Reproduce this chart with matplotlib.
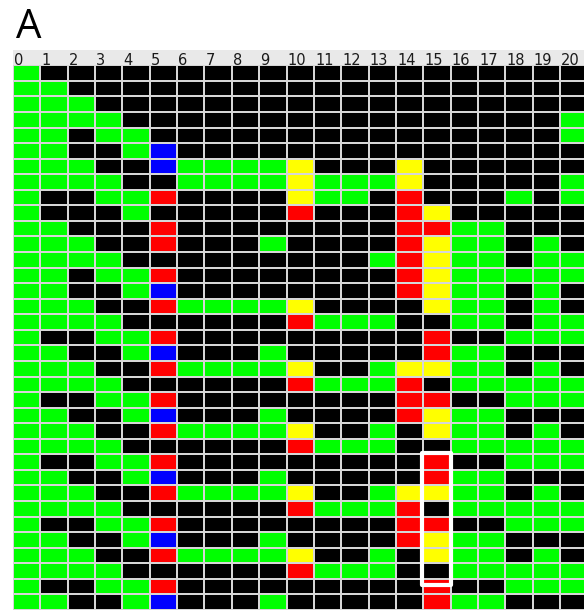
import matplotlib
matplotlib.use("Agg")
import matplotlib.pyplot as plt
import numpy as np
from matplotlib.colors import ListedColormap
from matplotlib.patches import Rectangle

# Cell states per time step (rows) and site (columns)
# K = black, G = green, R = red, Y = yellow, B = blue
column_labels = [str(i) for i in range(21)]
state_rows = [
    "GKKKKKKKKKKKKKKKKKKKK",
    "GGKKKKKKKKKKKKKKKKKKK",
    "GGGKKKKKKKKKKKKKKKKKK",
    "GGGGKKKKKKKKKKKKKKKKG",
    "GGKGGKKKKKKKKKKKKKKKG",
    "GGKKGBKKKKKKKKKKKKKKK",
    "GGGKKBGGGGYKKKYKKKKKK",
    "GGGGKKGGGGYGGGYKKKKKG",
    "GKKGGRKKKKYGGKRKKKGKG",
    "GKKKGKKKKKRKKKRYKKKKK",
    "GGKKKRKKKKKKKKRRGGKKK",
    "GGGKKRKKKGKKKKRYGGKGK",
    "GGGGKKKKKKKKKGRYGGKGG",
    "GGKGGRKKKKKKKKRYGGGGG",
    "GGKKGBKKKKKKKKRYGGKGK",
    "GGGKKRGGGGYKKKKYGGKGK",
    "GGGGKKKKKKRGGGKKGGKGG",
    "GKKGGRKKKKKKKKKRKKGGG",
    "GGKKGBKKKGKKKKKRGGKKK",
    "GGGKKRGGGGYKKGYYGGKGK",
    "GGGGKKKKKKRGGGRKGGGGG",
    "GKKGGRKKKKKKKKRRKKGGG",
    "GGKKGBKKKGKKKKRYGGKKK",
    "GGGKKRGGGGYKKGKYGGKGK",
    "GGGGKKKKKKRGGGKKGGGGG",
    "GKKGGRKKKKKKKKKRKKGGG",
    "GGKKGBKKKGKKKKKRGGKKK",
    "GGGKKRGGGGYKKGYYGGKGK",
    "GGGGKKKKKKRGGGRKGGGGG",
    "GKKGGRKKKKKKKKRRKKGGG",
    "GGKKGBKKKGKKKKRYGGKKK",
    "GGGKKRGGGGYKKGKYGGKGK",
    "GGGGKKKKKKRGGGKKGGGGG",
    "GKKGGRKKKKKKKKKRKKGGG",
    "GGKKGBKKKGKKKKKRGGKKK",
]
state_codes = "KGRYB"
state_colors = ["#000000", "#00ff00", "#ff0000", "#ffff00", "#0000ff"]

# highlighted block: column 15, rows 25..32
highlight_col = 15
highlight_rows = (25, 32)

grid = np.array([[state_codes.index(ch) for ch in row] for row in state_rows])
nrows, ncols = grid.shape

W, H = 584, 610
fig = plt.figure(figsize=(W / 100, H / 100), dpi=100)
fig.patch.set_facecolor("white")

left_px, top_px = 13, 65.3
ax = fig.add_axes([left_px / W, 0, 1 - left_px / W, (H - top_px) / H])
cmap = ListedColormap(state_colors)
ax.pcolormesh(np.arange(ncols + 1), np.arange(nrows + 1), grid, cmap=cmap,
              vmin=-0.5, vmax=len(state_colors) - 0.5,
              edgecolors="#d6d6d6", linewidth=1.3)
ax.set_xlim(0, (W - left_px) / 27.35)
ax.set_ylim(nrows, 0)
ax.axis("off")

# header band with site numbers (drawn in axes space, above the grid top)
ax.add_patch(Rectangle((0, 1), 1, 15 / (H - top_px), transform=ax.transAxes,
                       facecolor="#e9e9e9", edgecolor="none", clip_on=False,
                       zorder=1))
for i, lab in enumerate(column_labels):
    ax.text(i + 0.04, -0.04, lab, ha="left", va="baseline", fontsize=10.5,
            family="DejaVu Sans", color="#1a1a1a", clip_on=False, zorder=6)

# outline around the highlighted block
r0, r1 = highlight_rows
ax.add_patch(Rectangle((highlight_col - 0.03, r0 - 0.08), 1.06, (r1 - r0 + 1) + 0.5,
                       fill=False, edgecolor="white", linewidth=3.0,
                       joinstyle="round", clip_on=False, zorder=5))

fig.text(16 / W, 1 - 38 / H, "A", ha="left", va="baseline", fontsize=29,
         family="Open Sans", color="black")

fig.savefig("out.png", dpi=100)
